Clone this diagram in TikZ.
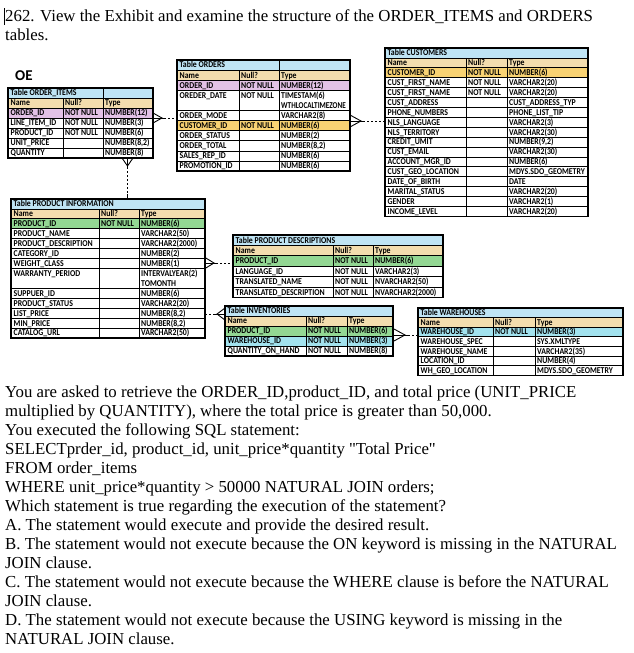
\documentclass[tikz,border=0pt]{standalone}
\usepackage{fontspec}
\usepackage{graphicx}
\setmainfont{Liberation Serif}
\newfontfamily\tblfont{Carlito}
\definecolor{ttl}{HTML}{BFE4F4}
\definecolor{hdr}{HTML}{F3DDAE}
\definecolor{pk}{HTML}{E3C2E6}
\definecolor{yl}{HTML}{F8D273}
\definecolor{gr}{HTML}{93D793}
\definecolor{cy}{HTML}{A2E2EE}
\tikzset{
 cell/.style={anchor=base west, inner sep=0pt, font=\tblfont\bfseries\fontsize{7.8}{8}\selectfont},
 inner/.style={line width=0.8pt},
 frame/.style={line width=1.4pt},
 para/.style={anchor=base west, inner sep=0pt, font=\fontsize{16.8}{19}\selectfont},
 dotline/.style={line width=1pt, dash pattern=on 1.5pt off 2.5pt},
 crow/.style={line width=0.9pt},
}
\newcommand\TBs[1]{\scalebox{1}[1.15]{#1}}
\newcommand\TBset[7]{\def\TBn{#1}\def\TBx{#2}\def\TBy{#3}\def\TBb{#4}\def\TBc{#5}\def\TBd{#6}\def\TBh{#7}}
\newcommand\TBtitle[1]{%
 \fill[ttl] (\TBx,\TBy) rectangle (\TBd,{\TBy+\TBh});
 \fill[hdr] (\TBx,{\TBy+\TBh}) rectangle (\TBd,{\TBy+2*\TBh});
 \node[cell] (\TBn-t) at (\TBx+2.5,{\TBy+0.5*\TBh+2.9}) {\TBs{#1}};
 \node[cell] (\TBn-1-a) at (\TBx+2.5,{\TBy+1.5*\TBh+2.9}) {\TBs{Name}};
 \node[cell] (\TBn-1-b) at (\TBb+2,{\TBy+1.5*\TBh+2.9}) {\TBs{Null?}};
 \node[cell] (\TBn-1-c) at (\TBc+2,{\TBy+1.5*\TBh+2.9}) {\TBs{Type}};}
\newcommand\TBrow[6]{%
 \fill[#3] (\TBx,{\TBy+#1*\TBh}) rectangle (\TBd,{\TBy+(#1+#2)*\TBh});
 \node[cell] (\TBn-#1-a) at (\TBx+2.5,{\TBy+(#1+0.5)*\TBh+2.9}) {\TBs{#4}};
 \node[cell] (\TBn-#1-b) at (\TBb+2,{\TBy+(#1+0.5)*\TBh+2.9}) {\TBs{#5}};
 \node[cell] (\TBn-#1-c) at (\TBc+2,{\TBy+(#1+0.5)*\TBh+2.9}) {\TBs{#6}};}
\newcommand\TBextra[2]{%
 \node[cell] (\TBn-#1-x) at (\TBc+2,{\TBy+(#1+0.5)*\TBh+2.9}) {\TBs{#2}};}
\newcommand\TBgrid[3]{%
 \foreach \i in {#1} \draw[inner] (\TBx,{\TBy+\i*\TBh}) -- (\TBd,{\TBy+\i*\TBh});
 \draw[inner] (\TBb,{\TBy+\TBh}) -- (\TBb,{\TBy+#2*\TBh});
 \draw[inner] (\TBc,{\TBy+#3*\TBh}) -- (\TBc,{\TBy+#2*\TBh});
 \draw[frame] (\TBx,\TBy) rectangle (\TBd,{\TBy+#2*\TBh});}
\begin{document}
\begin{tikzpicture}[x=1pt,y=-1pt]
\fill[white] (0,0) rectangle (634,653);
\useasboundingbox (0,0) rectangle (634,653);

% question heading
\node[para] (t1) at (5,21) {262. View the Exhibit and examine the structure of the ORDER\_ITEMS and ORDERS};
\node[para] (t2) at (5,40) {tables.};
\draw[line width=0.8pt] (4.5,8) -- (4.5,25);

\node[anchor=base west, inner sep=0pt, font=\tblfont\bfseries\fontsize{15}{15}\selectfont] (oe) at (15,80) {OE};

% ORDER_ITEMS
\TBset{oi}{8}{88}{63}{103}{153}{10}
\TBtitle{Table ORDER\_ITEMS}
\TBrow{2}{1}{pk}{ORDER\_ID}{NOT NULL}{NUMBER(12)}
\TBrow{3}{1}{white}{LINE\_ITEM\_ID}{NOT NULL}{NUMBER(3)}
\TBrow{4}{1}{white}{PRODUCT\_ID}{NOT NULL}{NUMBER(6)}
\TBrow{5}{1}{white}{UNIT\_PRICE}{}{NUMBER(8,2)}
\TBrow{6}{1}{white}{QUANTITY}{}{NUMBER(8)}
\TBgrid{1,...,6}{7}{0}

% ORDERS
\TBset{ord}{177}{60}{239}{279}{350}{10.1}
\TBtitle{Table ORDERS}
\TBrow{2}{1}{pk}{ORDER\_ID}{NOT NULL}{NUMBER(12)}
\TBrow{3}{2}{white}{OREDER\_DATE}{NOT NULL}{TIMESTAM(6)}
\TBextra{4}{\scalebox{0.92}[1]{WTHLOCALTIMEZONE}}
\TBrow{5}{1}{white}{ORDER\_MODE}{}{VARCHAR2(8)}
\TBrow{6}{1}{yl}{CUSTOMER\_ID}{NOT NULL}{NUMBER(6)}
\TBrow{7}{1}{white}{ORDER\_STATUS}{}{NUMBER(2)}
\TBrow{8}{1}{white}{ORDER\_TOTAL}{}{NUMBER(8,2)}
\TBrow{9}{1}{white}{SALES\_REP\_ID}{}{NUMBER(6)}
\TBrow{10}{1}{white}{PROMOTION\_ID}{}{NUMBER(6)}
\TBgrid{1,2,3,5,6,7,8,9,10}{11}{0}

% CUSTOMERS
\TBset{cus}{385}{48}{466}{507}{588}{9.9}
\TBtitle{Table CUSTOMERS}
\TBrow{2}{1}{yl}{CUSTOMER\_ID}{NOT NULL}{NUMBER(6)}
\TBrow{3}{1}{white}{CUST\_FIRST\_NAME}{NOT NULL}{VARCHAR2(20)}
\TBrow{4}{1}{white}{CUST\_FIRST\_NAME}{NOT NULL}{VARCHAR2(20)}
\TBrow{5}{1}{white}{CUST\_ADDRESS}{}{CUST\_ADDRESS\_TYP}
\TBrow{6}{1}{white}{PHONE\_NUMBERS}{}{PHONE\_LIST\_TIP}
\TBrow{7}{1}{white}{NLS\_LANGUAGE}{}{VARCHAR2(3)}
\TBrow{8}{1}{white}{NLS\_TERRITORY}{}{VARCHAR2(30)}
\TBrow{9}{1}{white}{CREDIT\_UMIT}{}{NUMBER(9,2)}
\TBrow{10}{1}{white}{CUST\_EMAIL}{}{VARCHAR2(30)}
\TBrow{11}{1}{white}{ACCOUNT\_MGR\_ID}{}{NUMBER(6)}
\TBrow{12}{1}{white}{CUST\_GEO\_LOCATION}{}{MDYS.SDO\_GEOMETRY}
\TBrow{13}{1}{white}{DATE\_OF\_BIRTH}{}{DATE}
\TBrow{14}{1}{white}{MARITAL\_STATUS}{}{VARCHAR2(20)}
\TBrow{15}{1}{white}{GENDER}{}{VARCHAR2(1)}
\TBrow{16}{1}{white}{INCOME\_LEVEL}{}{VARCHAR2(20)}
\TBgrid{1,...,16}{17}{1}

% PRODUCT INFORMATION
\TBset{pi}{11}{199}{99}{139}{205}{9.93}
\TBtitle{Table PRODUCT INFORMATION}
\TBrow{2}{1}{gr}{PRODUCT\_ID}{NOT NULL}{NUMBER(6)}
\TBrow{3}{1}{white}{PRODUCT\_NAME}{}{VARCHAR2(50)}
\TBrow{4}{1}{white}{PRODUCT\_DESCRIPTION}{}{VARCHAR2(2000)}
\TBrow{5}{1}{white}{CATEGORY\_ID}{}{NUMBER(2)}
\TBrow{6}{1}{white}{WEIGHT\_CLASS}{}{NUMBER(1)}
\TBrow{7}{2}{white}{WARRANTY\_PERIOD}{}{INTERVALYEAR(2)}
\TBextra{8}{TOMONTH}
\TBrow{9}{1}{white}{SUPPUER\_ID}{}{NUMBER(6)}
\TBrow{10}{1}{white}{PRODUCT\_STATUS}{}{VARCHAR2(20)}
\TBrow{11}{1}{white}{LIST\_PRICE}{}{NUMBER(8,2)}
\TBrow{12}{1}{white}{MIN\_PRICE}{}{NUMBER(8,2)}
\TBrow{13}{1}{white}{CATALOG\_URL}{}{VARCHAR2(50)}
\TBgrid{1,...,7,9,10,11,12,13}{14}{1}

% PRODUCT DESCRIPTIONS
\TBset{pd}{233}{235}{333}{373}{443}{10.4}
\TBtitle{Table PRODUCT DESCRIPTIONS}
\TBrow{2}{1}{gr}{PRODUCT\_ID}{NOT NULL}{NUMBER(6)}
\TBrow{3}{1}{white}{LANGUAGE\_ID}{NOT NULL}{VARCHAR2(3)}
\TBrow{4}{1}{white}{TRANSLATED\_NAME}{NOT NULL}{NVARCHAR2(50)}
\TBrow{5}{1}{white}{TRANSLATED\_DESCRIPTION}{NOT NULL}{NVARCHAR2(2000)}
\TBgrid{1,...,5}{6}{1}

% INVENTORIES
\TBset{inv}{225}{306}{306}{347}{393}{10}
\TBtitle{Table INVENTORIES}
\TBrow{2}{1}{gr}{PRODUCT\_ID}{NOT NULL}{NUMBER(6)}
\TBrow{3}{1}{cy}{WAREHOUSE\_ID}{NOT NULL}{NUMBER(3)}
\TBrow{4}{1}{white}{QUANTITY\_ON\_HAND}{NOT NULL}{NUMBER(8)}
\TBgrid{1,...,4}{5}{1}

% WAREHOUSES
\TBset{wh}{418}{308}{493}{535}{623}{9.6}
\TBtitle{Table WAREHOUSES}
\TBrow{2}{1}{cy}{WAREHOUSE\_ID}{NOT NULL}{NUMBER(3)}
\TBrow{3}{1}{white}{WAREHOUSE\_SPEC}{}{SYS.XMLTYPE}
\TBrow{4}{1}{white}{WAREHOUSE\_NAME}{}{VARCHAR2(35)}
\TBrow{5}{1}{white}{LOCATION\_ID}{}{NUMBER(4)}
\TBrow{6}{1}{white}{WH\_GEO\_LOCATION}{}{MDYS.SDO\_GEOMETRY}
\TBgrid{1,...,6}{7}{1}

% connectors
\coordinate (c1a) at (153,118); \coordinate (c1b) at (177,118);
\draw[crow] (c1a) ++(0,-5) -- ++(9,5) -- ++(-9,5);
\draw[crow] (c1a) -- ++(11,0) coordinate (c1v);
\draw[dotline] (c1v) -- (c1b);

\coordinate (c2a) at (127.5,158); \coordinate (c2b) at (127.5,199);
\draw[crow] (c2a) ++(-5.5,0) -- ++(5.5,8) -- ++(5.5,-8);
\draw[crow] (c2a) -- ++(0,9) coordinate (c2v);
\draw[dotline] (c2v) -- ++(0,27) coordinate (c2w);
\draw[crow] (c2w) -- (c2b);

\coordinate (c3a) at (350,121); \coordinate (c3b) at (385,121);
\draw[crow] (c3a) ++(0,-6) -- ++(11,6) -- ++(-11,6);
\draw[crow] (c3a) -- ++(13,0) coordinate (c3v);
\draw[dotline] (c3v) -- (c3b);

\coordinate (c4a) at (205,263); \coordinate (c4b) at (233,263);
\draw[crow] (c4a) ++(0,-5.5) -- ++(9,5.5) -- ++(-9,5.5);
\draw[crow] (c4a) -- ++(11,0) coordinate (c4v);
\draw[dotline] (c4v) -- (c4b);

\coordinate (c5a) at (205,314); \coordinate (c5b) at (225,314);
\draw[crow] (c5b) ++(0,-6) -- ++(-8,6) -- ++(8,6);
\draw[crow] (c5b) -- ++(-11,0) coordinate (c5v);
\draw[dotline] (c5a) -- (c5v);

\coordinate (c6a) at (393,335); \coordinate (c6b) at (418,335);
\draw[crow] (c6a) ++(1,-6) -- ++(11,6) -- ++(-11,6);
\draw[crow] (c6a) -- ++(15,0) coordinate (c6v);
\draw[dotline] (c6v) -- (c6b);

% question text
\node[para] (p1) at (5,397) {You are asked to retrieve the ORDER\_ID,product\_ID, and total price (UNIT\_PRICE};
\node[para] (p2) at (5,416) {multiplied by QUANTITY), where the total price is greater than 50,000.};
\node[para] (p3) at (5,435) {You executed the following SQL statement:};
\node[para] (p4) at (5,454) {SELECTprder\_id, product\_id, unit\_price*quantity \textquotedbl Total Price\textquotedbl};
\node[para] (p5) at (5,473) {FROM order\_items};
\node[para] (p6) at (5,492) {WHERE unit\_price*quantity > 50000 NATURAL JOIN orders;};
\node[para] (p7) at (5,511) {Which statement is true regarding the execution of the statement?};
\node[para] (p8) at (5,530) {A. The statement would execute and provide the desired result.};
\node[para] (p9) at (5,549) {B. The statement would not execute because the ON keyword is missing in the NATURAL};
\node[para] (p10) at (5,568) {JOIN clause.};
\node[para] (p11) at (5,587) {C. The statement would not execute because the WHERE clause is before the NATURAL};
\node[para] (p12) at (5,606) {JOIN clause.};
\node[para] (p13) at (5,625) {D. The statement would not execute because the USING keyword is missing in the};
\node[para] (p14) at (5,644) {NATURAL JOIN clause.};
\end{tikzpicture}
\end{document}
